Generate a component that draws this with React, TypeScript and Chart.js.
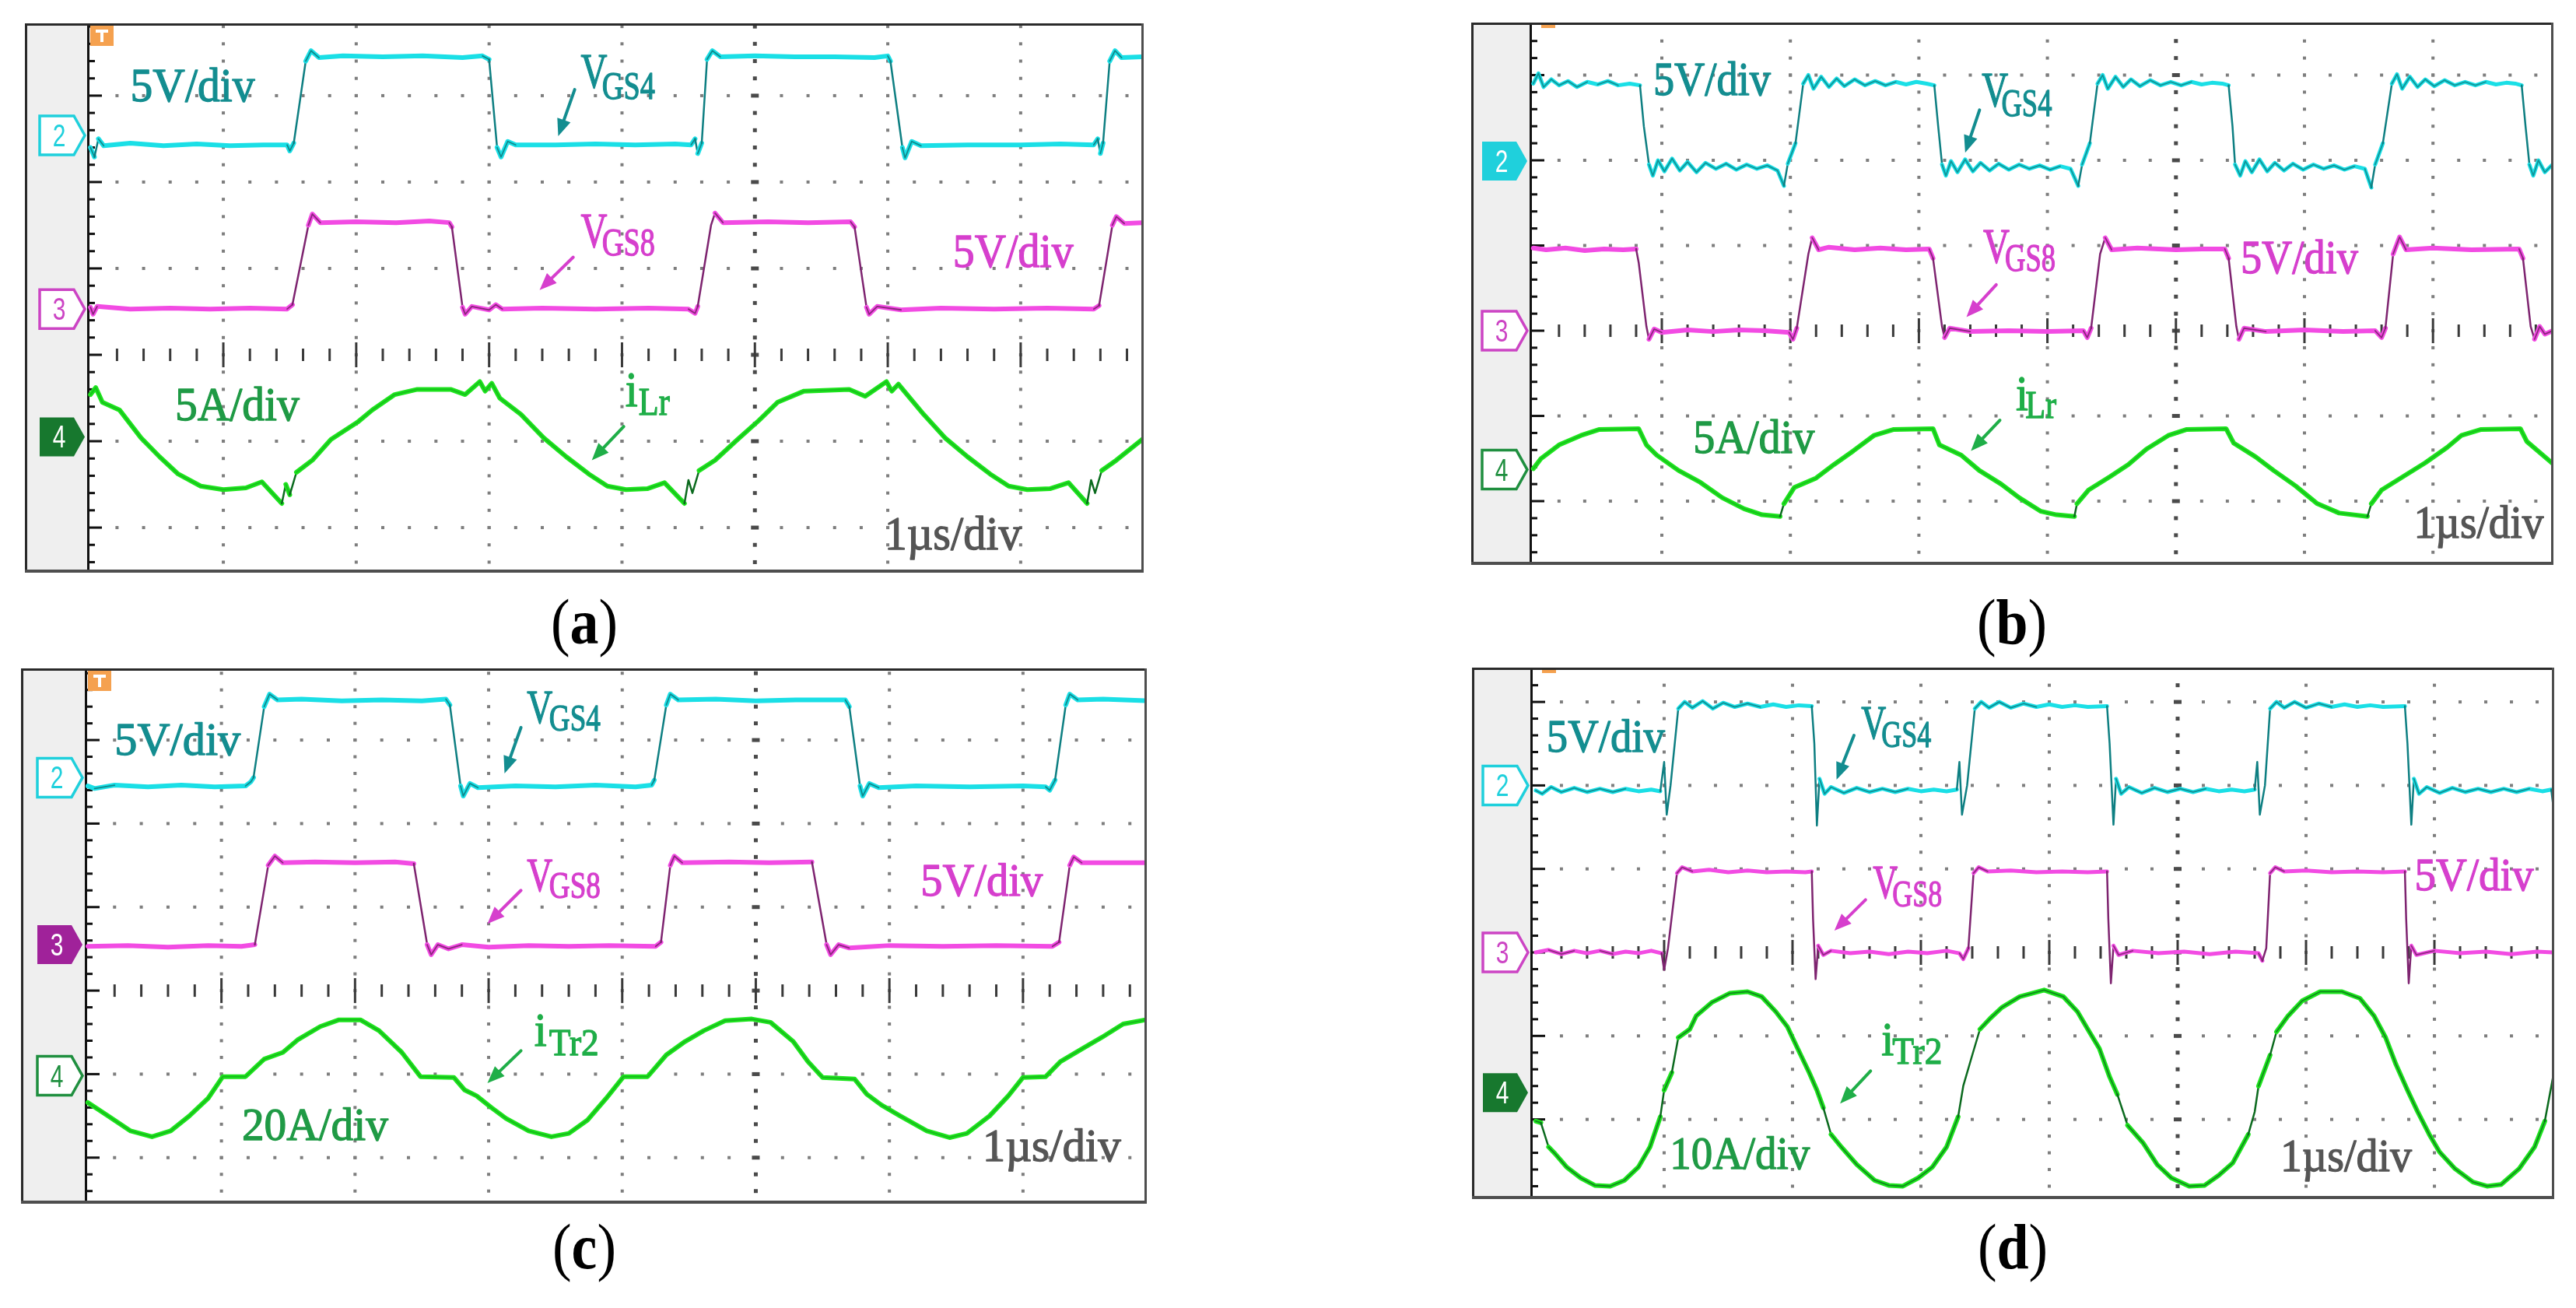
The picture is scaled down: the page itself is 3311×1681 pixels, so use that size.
import React, { useEffect, useRef } from "react";
import { Chart, registerables } from "chart.js";

Chart.register(...registerables);

type Pt = [number, number];

// ---------- Panel (a): time in µs, level in screen divisions ----------
const aVgs4: Pt[] = [[0.00,2.40],[0.03,2.29],[0.06,2.50],[0.10,2.42],[0.30,2.45],[0.55,2.42],[0.80,2.44],[1.05,2.42],[1.30,2.43],[1.48,2.43],[1.50,2.36],[1.53,2.45],[1.62,3.40],[1.66,3.52],[1.72,3.44],[1.90,3.46],[2.20,3.45],[2.50,3.46],[2.80,3.44],[2.95,3.46],[3.00,3.42],[3.06,2.40],[3.09,2.29],[3.14,2.47],[3.20,2.43],[3.50,2.43],[3.80,2.44],[4.10,2.43],[4.40,2.44],[4.52,2.43],[4.55,2.50],[4.57,2.33],[4.60,2.45],[4.64,3.42],[4.68,3.52],[4.74,3.45],[5.00,3.46],[5.30,3.45],[5.60,3.45],[5.90,3.44],[6.00,3.46],[6.02,3.40],[6.11,2.40],[6.13,2.28],[6.18,2.47],[6.25,2.42],[6.60,2.43],[7.00,2.43],[7.30,2.44],[7.55,2.43],[7.58,2.50],[7.60,2.33],[7.62,2.45],[7.67,3.40],[7.71,3.52],[7.76,3.44],[7.93,3.45]];
const aVgs8: Pt[] = [[0.00,0.55],[0.02,0.47],[0.05,0.56],[0.30,0.53],[0.60,0.54],[0.90,0.53],[1.20,0.54],[1.48,0.53],[1.52,0.58],[1.64,1.50],[1.67,1.63],[1.73,1.53],[2.00,1.54],[2.30,1.53],[2.55,1.55],[2.70,1.53],[2.72,1.48],[2.80,0.55],[2.82,0.47],[2.87,0.56],[3.00,0.52],[3.05,0.58],[3.10,0.53],[3.40,0.54],[3.80,0.53],[4.20,0.54],[4.50,0.53],[4.55,0.48],[4.57,0.56],[4.67,1.50],[4.70,1.64],[4.76,1.53],[5.10,1.54],[5.40,1.53],[5.72,1.54],[5.75,1.48],[5.84,0.55],[5.86,0.47],[5.92,0.56],[6.10,0.52],[6.40,0.54],[6.80,0.53],[7.20,0.54],[7.55,0.53],[7.59,0.57],[7.69,1.50],[7.72,1.60],[7.78,1.52],[7.93,1.53]];
const aIlr: Pt[] = [[0.00,-0.46],[0.04,-0.38],[0.09,-0.55],[0.22,-0.64],[0.38,-0.96],[0.52,-1.18],[0.66,-1.38],[0.83,-1.52],[1.00,-1.56],[1.17,-1.54],[1.29,-1.47],[1.44,-1.72],[1.47,-1.50],[1.50,-1.62],[1.55,-1.36],[1.67,-1.22],[1.81,-0.98],[2.01,-0.78],[2.12,-0.64],[2.29,-0.46],[2.46,-0.40],[2.71,-0.40],[2.82,-0.46],[2.93,-0.31],[2.97,-0.42],[3.02,-0.33],[3.08,-0.50],[3.24,-0.69],[3.41,-0.96],[3.58,-1.18],[3.75,-1.38],[3.89,-1.52],[4.03,-1.56],[4.19,-1.55],[4.32,-1.48],[4.47,-1.72],[4.50,-1.45],[4.53,-1.60],[4.58,-1.34],[4.70,-1.22],[4.87,-0.98],[5.03,-0.76],[5.17,-0.55],[5.37,-0.42],[5.71,-0.40],[5.83,-0.48],[5.99,-0.31],[6.03,-0.42],[6.08,-0.34],[6.27,-0.69],[6.43,-0.96],[6.60,-1.18],[6.77,-1.38],[6.91,-1.52],[7.05,-1.56],[7.22,-1.55],[7.36,-1.48],[7.50,-1.72],[7.53,-1.45],[7.56,-1.60],[7.61,-1.34],[7.72,-1.22],[7.93,-0.96]];

// ---------- Panel (b) ----------
const bVgs4: Pt[] = [[0.00,2.90],[0.04,3.02],[0.08,2.86],[0.14,2.95],[0.20,2.88],[0.27,2.93],[0.34,2.86],[0.42,2.92],[0.50,2.89],[0.58,2.93],[0.66,2.88],[0.75,2.90],[0.83,2.88],[0.86,2.40],[0.90,1.95],[0.93,1.82],[0.97,2.00],[1.02,1.87],[1.08,2.02],[1.14,1.88],[1.20,1.98],[1.27,1.86],[1.34,1.97],[1.42,1.90],[1.50,1.96],[1.58,1.89],[1.66,1.95],[1.74,1.90],[1.82,1.94],[1.90,1.88],[1.95,1.70],[1.98,1.96],[2.04,2.20],[2.10,2.90],[2.14,3.00],[2.18,2.84],[2.24,2.98],[2.30,2.86],[2.36,2.96],[2.42,2.87],[2.50,2.95],[2.58,2.88],[2.66,2.93],[2.74,2.88],[2.82,2.92],[2.90,2.89],[2.98,2.92],[3.06,2.90],[3.12,2.88],[3.15,2.40],[3.18,1.95],[3.21,1.82],[3.25,1.99],[3.30,1.86],[3.36,2.01],[3.42,1.87],[3.48,1.97],[3.55,1.88],[3.62,1.96],[3.70,1.89],[3.78,1.95],[3.86,1.90],[3.94,1.94],[4.02,1.89],[4.10,1.93],[4.18,1.90],[4.24,1.70],[4.27,1.95],[4.33,2.20],[4.39,2.90],[4.43,3.00],[4.47,2.84],[4.53,2.98],[4.59,2.86],[4.65,2.95],[4.72,2.87],[4.80,2.94],[4.88,2.88],[4.96,2.92],[5.04,2.88],[5.12,2.92],[5.20,2.89],[5.28,2.91],[5.36,2.90],[5.41,2.88],[5.44,2.40],[5.46,1.95],[5.50,1.82],[5.54,1.99],[5.59,1.86],[5.65,2.01],[5.71,1.87],[5.77,1.97],[5.84,1.88],[5.91,1.96],[5.99,1.89],[6.07,1.95],[6.15,1.90],[6.23,1.94],[6.31,1.89],[6.39,1.93],[6.47,1.90],[6.52,1.68],[6.55,1.95],[6.61,2.20],[6.68,2.90],[6.72,3.01],[6.76,2.84],[6.82,2.98],[6.88,2.86],[6.94,2.95],[7.01,2.87],[7.09,2.94],[7.17,2.88],[7.25,2.92],[7.33,2.88],[7.41,2.92],[7.49,2.89],[7.57,2.91],[7.64,2.90],[7.69,2.88],[7.72,2.40],[7.75,1.95],[7.78,1.82],[7.82,2.00],[7.87,1.86],[7.93,1.95]];
const bVgs8: Pt[] = [[0.00,0.97],[0.10,0.95],[0.25,0.97],[0.40,0.94],[0.55,0.96],[0.70,0.95],[0.80,0.96],[0.82,0.80],[0.88,0.05],[0.90,-0.10],[0.94,0.02],[1.00,-0.02],[1.20,0.01],[1.40,-0.01],[1.60,0.01],[1.80,0.00],[1.99,-0.02],[2.02,-0.10],[2.05,0.03],[2.14,0.90],[2.17,1.09],[2.22,0.95],[2.30,0.98],[2.50,0.95],[2.70,0.97],[2.90,0.95],[3.08,0.96],[3.11,0.85],[3.18,0.05],[3.20,-0.08],[3.24,0.03],[3.40,-0.01],[3.70,0.00],[4.00,-0.01],[4.28,0.00],[4.31,-0.08],[4.34,0.03],[4.41,0.90],[4.45,1.09],[4.50,0.95],[4.70,0.97],[5.00,0.95],[5.20,0.96],[5.38,0.96],[5.41,0.85],[5.47,0.05],[5.49,-0.10],[5.53,0.03],[5.70,-0.01],[6.00,0.01],[6.30,-0.01],[6.55,0.00],[6.60,-0.08],[6.63,0.03],[6.69,0.90],[6.74,1.10],[6.79,0.95],[7.00,0.97],[7.30,0.95],[7.67,0.96],[7.70,0.85],[7.76,0.05],[7.79,-0.10],[7.83,0.05],[7.87,-0.04],[7.93,0.00]];
const bIlr: Pt[] = [[0.00,-1.62],[0.06,-1.50],[0.20,-1.34],[0.37,-1.23],[0.51,-1.16],[0.82,-1.15],[0.88,-1.34],[0.96,-1.46],[1.13,-1.64],[1.30,-1.78],[1.47,-1.96],[1.64,-2.09],[1.78,-2.16],[1.92,-2.18],[1.95,-2.03],[2.03,-1.84],[2.20,-1.73],[2.34,-1.57],[2.49,-1.41],[2.65,-1.23],[2.80,-1.16],[3.11,-1.15],[3.16,-1.34],[3.33,-1.46],[3.47,-1.64],[3.64,-1.80],[3.78,-1.96],[3.95,-2.12],[4.07,-2.16],[4.21,-2.18],[4.23,-2.03],[4.32,-1.87],[4.49,-1.71],[4.63,-1.57],[4.77,-1.39],[4.94,-1.23],[5.08,-1.16],[5.39,-1.15],[5.45,-1.32],[5.62,-1.48],[5.76,-1.64],[5.93,-1.82],[6.10,-2.03],[6.27,-2.14],[6.49,-2.18],[6.52,-2.03],[6.60,-1.87],[6.77,-1.71],[6.94,-1.55],[7.11,-1.37],[7.22,-1.23],[7.37,-1.16],[7.68,-1.15],[7.73,-1.30],[7.94,-1.57]];

// ---------- Panel (c) ----------
const cVgs4: Pt[] = [[0.00,2.45],[0.05,2.42],[0.20,2.46],[0.45,2.44],[0.70,2.46],[0.95,2.44],[1.18,2.45],[1.22,2.50],[1.24,2.55],[1.32,3.40],[1.36,3.55],[1.42,3.48],[1.60,3.49],[1.90,3.47],[2.20,3.48],[2.50,3.47],[2.68,3.49],[2.71,3.42],[2.79,2.45],[2.81,2.33],[2.86,2.48],[2.92,2.43],[3.20,2.45],[3.50,2.44],[3.80,2.46],[4.10,2.44],[4.22,2.46],[4.24,2.52],[4.33,3.42],[4.36,3.55],[4.42,3.48],[4.70,3.49],[5.00,3.47],[5.30,3.48],[5.67,3.48],[5.70,3.40],[5.78,2.45],[5.80,2.33],[5.85,2.48],[5.92,2.43],[6.20,2.45],[6.60,2.44],[7.00,2.45],[7.17,2.44],[7.20,2.40],[7.24,2.52],[7.32,3.42],[7.35,3.55],[7.41,3.48],[7.60,3.49],[7.92,3.47]];
const cVgs8: Pt[] = [[0.00,0.53],[0.30,0.54],[0.60,0.52],[0.90,0.54],[1.15,0.53],[1.25,0.55],[1.35,1.50],[1.40,1.61],[1.46,1.53],[1.70,1.54],[2.00,1.53],[2.30,1.54],[2.44,1.52],[2.54,0.55],[2.57,0.43],[2.62,0.55],[2.70,0.50],[2.80,0.55],[3.00,0.52],[3.30,0.54],[3.60,0.53],[3.90,0.54],[4.25,0.53],[4.29,0.58],[4.36,1.50],[4.39,1.61],[4.45,1.53],[4.80,1.54],[5.10,1.53],[5.42,1.54],[5.53,0.55],[5.56,0.43],[5.62,0.55],[5.70,0.51],[6.00,0.54],[6.40,0.53],[6.80,0.54],[7.22,0.53],[7.27,0.58],[7.35,1.50],[7.38,1.60],[7.44,1.53],[7.92,1.53]];
const cItr2: Pt[] = [[0.00,-1.34],[0.15,-1.50],[0.32,-1.68],[0.48,-1.75],[0.62,-1.68],[0.76,-1.50],[0.90,-1.29],[1.01,-1.03],[1.18,-1.03],[1.32,-0.82],[1.46,-0.74],[1.57,-0.59],[1.74,-0.43],[1.88,-0.35],[2.04,-0.35],[2.18,-0.48],[2.35,-0.74],[2.49,-1.03],[2.74,-1.04],[2.82,-1.19],[2.91,-1.26],[3.02,-1.40],[3.13,-1.53],[3.30,-1.68],[3.47,-1.75],[3.60,-1.71],[3.74,-1.55],[3.88,-1.29],[4.01,-1.03],[4.19,-1.03],[4.33,-0.77],[4.47,-0.61],[4.61,-0.48],[4.77,-0.36],[4.97,-0.34],[5.11,-0.38],[5.28,-0.61],[5.39,-0.85],[5.50,-1.04],[5.74,-1.06],[5.83,-1.24],[5.94,-1.37],[6.08,-1.50],[6.28,-1.68],[6.45,-1.76],[6.58,-1.71],[6.75,-1.50],[6.89,-1.26],[7.00,-1.04],[7.17,-1.03],[7.28,-0.85],[7.45,-0.69],[7.59,-0.56],[7.75,-0.40],[7.92,-0.35]];

// ---------- Panel (d) ----------
const dVgs4: Pt[] = [[0.00,1.94],[0.05,1.90],[0.12,1.98],[0.20,1.92],[0.30,1.97],[0.40,1.92],[0.50,1.96],[0.60,1.92],[0.70,1.96],[0.80,1.93],[0.90,1.95],[0.97,1.93],[1.00,2.28],[1.02,1.65],[1.05,2.00],[1.11,2.92],[1.16,3.00],[1.22,2.93],[1.30,3.01],[1.38,2.92],[1.46,2.99],[1.55,2.94],[1.65,2.98],[1.75,2.94],[1.85,2.97],[1.95,2.94],[2.05,2.96],[2.15,2.95],[2.17,2.50],[2.19,1.52],[2.21,2.08],[2.25,1.90],[2.30,1.98],[2.40,1.91],[2.50,1.97],[2.60,1.92],[2.70,1.96],[2.80,1.92],[2.90,1.96],[3.00,1.93],[3.10,1.95],[3.20,1.93],[3.28,1.95],[3.30,2.28],[3.32,1.65],[3.36,2.00],[3.42,2.92],[3.47,3.00],[3.53,2.93],[3.61,3.00],[3.70,2.93],[3.80,2.98],[3.90,2.94],[4.00,2.97],[4.10,2.94],[4.20,2.96],[4.30,2.94],[4.45,2.95],[4.47,2.50],[4.50,1.53],[4.52,2.08],[4.56,1.90],[4.62,1.98],[4.72,1.91],[4.82,1.97],[4.92,1.92],[5.02,1.96],[5.12,1.92],[5.22,1.96],[5.32,1.93],[5.42,1.95],[5.52,1.93],[5.60,1.95],[5.62,2.28],[5.64,1.65],[5.68,2.00],[5.72,2.92],[5.77,3.00],[5.83,2.93],[5.91,3.00],[6.00,2.93],[6.10,2.98],[6.20,2.94],[6.30,2.97],[6.40,2.94],[6.50,2.96],[6.60,2.94],[6.77,2.95],[6.79,2.50],[6.82,1.53],[6.84,2.08],[6.88,1.90],[6.94,1.98],[7.04,1.91],[7.14,1.97],[7.24,1.92],[7.34,1.96],[7.44,1.92],[7.54,1.96],[7.64,1.92],[7.74,1.96],[7.84,1.93],[7.91,1.95],[7.93,1.70]];
const dVgs8: Pt[] = [[0.00,0.00],[0.10,0.03],[0.20,-0.02],[0.30,0.02],[0.40,-0.01],[0.50,0.02],[0.60,-0.02],[0.70,0.01],[0.80,-0.01],[0.90,0.02],[0.98,-0.01],[1.00,-0.21],[1.03,0.05],[1.10,0.95],[1.14,1.02],[1.22,0.97],[1.35,0.99],[1.50,0.96],[1.65,0.98],[1.80,0.96],[1.95,0.97],[2.10,0.96],[2.15,0.97],[2.16,0.40],[2.18,-0.32],[2.20,0.08],[2.24,-0.03],[2.30,0.02],[2.45,-0.01],[2.60,0.01],[2.75,-0.02],[2.90,0.01],[3.05,-0.01],[3.20,0.02],[3.30,-0.01],[3.33,-0.08],[3.37,0.05],[3.41,0.95],[3.45,1.02],[3.52,0.97],[3.70,0.98],[3.90,0.96],[4.10,0.97],[4.30,0.96],[4.45,0.97],[4.46,0.40],[4.48,-0.37],[4.50,0.08],[4.54,-0.03],[4.65,0.02],[4.85,-0.01],[5.05,0.01],[5.25,-0.02],[5.45,0.01],[5.63,-0.01],[5.66,-0.10],[5.69,0.05],[5.72,0.95],[5.76,1.02],[5.83,0.97],[6.00,0.98],[6.20,0.96],[6.40,0.97],[6.60,0.96],[6.77,0.97],[6.78,0.40],[6.80,-0.37],[6.82,0.08],[6.86,-0.03],[7.00,0.02],[7.20,-0.01],[7.40,0.01],[7.60,-0.02],[7.80,0.01],[7.93,0.00]];
const dItr2: Pt[] = [[0.00,-2.02],[0.04,-2.04],[0.10,-2.33],[0.15,-2.41],[0.24,-2.57],[0.35,-2.70],[0.46,-2.79],[0.58,-2.80],[0.69,-2.73],[0.80,-2.57],[0.89,-2.33],[0.97,-1.97],[1.00,-1.65],[1.06,-1.44],[1.11,-1.02],[1.20,-0.92],[1.25,-0.76],[1.37,-0.60],[1.51,-0.49],[1.65,-0.47],[1.76,-0.53],[1.87,-0.71],[1.96,-0.89],[2.04,-1.15],[2.13,-1.44],[2.19,-1.65],[2.24,-1.86],[2.30,-2.18],[2.38,-2.33],[2.50,-2.54],[2.64,-2.73],[2.75,-2.79],[2.86,-2.80],[2.98,-2.70],[3.09,-2.57],[3.20,-2.33],[3.29,-1.97],[3.33,-1.60],[3.40,-1.23],[3.46,-0.92],[3.54,-0.79],[3.63,-0.66],[3.77,-0.53],[3.96,-0.45],[4.11,-0.53],[4.22,-0.71],[4.30,-0.92],[4.39,-1.15],[4.47,-1.49],[4.53,-1.70],[4.61,-2.07],[4.73,-2.28],[4.84,-2.54],[4.95,-2.70],[5.09,-2.80],[5.21,-2.79],[5.32,-2.67],[5.43,-2.52],[5.55,-2.18],[5.60,-1.91],[5.63,-1.60],[5.72,-1.23],[5.77,-0.95],[5.86,-0.76],[5.97,-0.58],[6.11,-0.47],[6.28,-0.47],[6.42,-0.55],[6.53,-0.76],[6.62,-1.02],[6.70,-1.34],[6.79,-1.65],[6.87,-1.91],[6.96,-2.18],[7.04,-2.39],[7.16,-2.59],[7.30,-2.75],[7.41,-2.80],[7.52,-2.78],[7.66,-2.59],[7.78,-2.33],[7.86,-2.02],[7.93,-1.44]];

// ---------- styles ----------
const COL = {
  cyan: { bright: "#1adfe6", dark: "#0e7f82" },
  magenta: { bright: "#f24be3", dark: "#7e2470" },
  green: { bright: "#1de41d", dark: "#0b6a1e" },
};
const TEAL = "#138d90";
const MAGT = "#d63fcd";
const GRNT = "#1f9a45";
const GRNT2 = "#1fae48";
const GRAY = "#555555";
const SERIF = "'Liberation Serif', 'DejaVu Serif', serif";
const SANS = "'Liberation Sans', 'DejaVu Sans', sans-serif";

type Ann =
  | { t: "text"; s: string; x: number; y: number; size: number; w: number; color: string }
  | { t: "arrow"; x0: number; y0: number; x1: number; y1: number; color: string };
const T = (s: string, x: number, y: number, size: number, w: number, color: string): Ann => ({ t: "text", s, x, y, size, w, color });
const Arr = (x0: number, y0: number, x1: number, y1: number, color: string): Ann => ({ t: "arrow", x0, y0, x1, y1, color });

type Marker = { n: string; y: number; color: string; filled: boolean };
type Trace = { pts: Pt[]; c: keyof typeof COL; w: number; overlay: "wiggle" | "all"; alpha: number };
type Panel = {
  id: string; left: number; top: number; w: number; h: number;
  pad: { left: number; top: number; right: number; bottom: number };
  xMin: number; xMax: number; yMin: number; yMax: number;
  trig: "box" | "bar"; markers: Marker[]; traces: Trace[]; anns: Ann[];
  label: { cx: number; top: number };
};

const CYM = "#1fd0dc", MGM = "#cc44c4", GRM = "#1f8f3f", GRF = "#17782e", MGF = "#a0229a";

const PANELS: Panel[] = [
  {
    id: "a", left: 32, top: 30, w: 1438, h: 706, pad: { left: 81, top: 3, right: 2, bottom: 3 },
    xMin: -0.019, xMax: 7.914, yMin: -2.495, yMax: 3.81, trig: "box",
    markers: [{ n: "2", y: 2.54, color: CYM, filled: false }, { n: "3", y: 0.53, color: MGM, filled: false }, { n: "4", y: -0.95, color: GRF, filled: true }],
    traces: [
      { pts: aVgs4, c: "cyan", w: 6, overlay: "wiggle", alpha: 0.9 },
      { pts: aVgs8, c: "magenta", w: 6, overlay: "wiggle", alpha: 0.9 },
      { pts: aIlr, c: "green", w: 6, overlay: "all", alpha: 0.3 },
    ],
    anns: [
      T("5V/div", 0.30, 2.94, 62, 160, TEAL),
      T("V", 3.69, 3.09, 64, 34, TEAL), T("GS4", 3.85, 2.965, 50, 68, TEAL),
      Arr(3.644, 3.07, 3.52, 2.53, TEAL),
      T("V", 3.69, 1.24, 64, 34, MAGT), T("GS8", 3.85, 1.15, 50, 68, MAGT),
      Arr(3.633, 1.13, 3.38, 0.75, MAGT),
      T("5V/div", 6.49, 1.016, 62, 155, MAGT),
      T("5A/div", 0.636, -0.754, 62, 160, GRNT),
      T("i", 4.025, -0.597, 64, 16, GRNT2), T("Lr", 4.125, -0.695, 50, 40, GRNT2),
      Arr(4.013, -0.83, 3.773, -1.22, GRNT2),
      T("1µs/div", 5.974, -2.255, 62, 176, GRAY),
    ],
    label: { cx: 751, top: 759 },
  },
  {
    id: "b", left: 1891, top: 29, w: 1391, h: 697, pad: { left: 76, top: 3, right: 2, bottom: 3 },
    xMin: -0.023, xMax: 7.925, yMin: -2.721, yMax: 3.589, trig: "bar",
    markers: [{ n: "2", y: 1.99, color: CYM, filled: true }, { n: "3", y: 0.0, color: MGM, filled: false }, { n: "4", y: -1.63, color: GRM, filled: false }],
    traces: [
      { pts: bVgs4, c: "cyan", w: 5, overlay: "wiggle", alpha: 0.8 },
      { pts: bVgs8, c: "magenta", w: 6, overlay: "wiggle", alpha: 0.9 },
      { pts: bIlr, c: "green", w: 6, overlay: "all", alpha: 0.3 },
    ],
    anns: [
      T("5V/div", 0.933, 2.77, 62, 151, TEAL),
      T("V", 3.489, 2.632, 64, 34, TEAL), T("GS4", 3.642, 2.518, 50, 65, TEAL),
      Arr(3.472, 2.59, 3.36, 2.09, TEAL),
      T("V", 3.50, 0.792, 64, 34, MAGT), T("GS8", 3.67, 0.701, 50, 65, MAGT),
      Arr(3.602, 0.54, 3.37, 0.16, MAGT),
      T("5V/div", 5.503, 0.678, 62, 151, MAGT),
      T("5A/div", 1.244, -1.434, 62, 156, GRNT),
      T("i", 3.754, -0.935, 64, 16, GRNT2), T("Lr", 3.828, -1.026, 50, 40, GRNT2),
      Arr(3.63, -1.05, 3.405, -1.41, GRNT2),
      T("1µs/div", 6.85, -2.43, 59, 167, GRAY),
    ],
    label: { cx: 2586, top: 759 },
  },
  {
    id: "c", left: 27, top: 859, w: 1447, h: 688, pad: { left: 83, top: 3, right: 2, bottom: 3 },
    xMin: -0.017, xMax: 7.915, yMin: -2.524, yMax: 3.83, trig: "box",
    markers: [{ n: "2", y: 2.55, color: CYM, filled: false }, { n: "3", y: 0.55, color: MGF, filled: true }, { n: "4", y: -1.02, color: GRM, filled: false }],
    traces: [
      { pts: cVgs4, c: "cyan", w: 6, overlay: "wiggle", alpha: 0.9 },
      { pts: cVgs8, c: "magenta", w: 6, overlay: "wiggle", alpha: 0.9 },
      { pts: cItr2, c: "green", w: 6, overlay: "all", alpha: 0.35 },
    ],
    anns: [
      T("5V/div", 0.20, 2.82, 60, 162, TEAL),
      T("V", 3.286, 3.205, 62, 33, TEAL), T("GS4", 3.453, 3.111, 49, 66, TEAL),
      Arr(3.242, 3.15, 3.119, 2.60, TEAL),
      T("V", 3.286, 1.192, 62, 33, MAGT), T("GS8", 3.453, 1.114, 49, 66, MAGT),
      Arr(3.242, 1.20, 2.991, 0.80, MAGT),
      T("5V/div", 6.233, 1.14, 60, 157, MAGT),
      T("i", 3.342, -0.663, 62, 16, GRNT2), T("Tr2", 3.453, -0.768, 49, 64, GRNT2),
      Arr(3.242, -0.72, 2.991, -1.107, GRNT2),
      T("20A/div", 1.153, -1.787, 60, 188, GRNT),
      T("1µs/div", 6.696, -2.04, 60, 178, GRAY),
    ],
    label: { cx: 751, top: 1562 },
  },
  {
    id: "d", left: 1892, top: 858, w: 1391, h: 683, pad: { left: 76, top: 3, right: 2, bottom: 3 },
    xMin: -0.036, xMax: 7.921, yMin: -2.926, yMax: 3.383, trig: "bar",
    markers: [{ n: "2", y: 2.0, color: CYM, filled: false }, { n: "3", y: 0.0, color: MGM, filled: false }, { n: "4", y: -1.68, color: GRF, filled: true }],
    traces: [
      { pts: dVgs4, c: "cyan", w: 5, overlay: "wiggle", alpha: 0.85 },
      { pts: dVgs8, c: "magenta", w: 5, overlay: "wiggle", alpha: 0.85 },
      { pts: dItr2, c: "green", w: 6, overlay: "all", alpha: 0.75 },
    ],
    anns: [
      T("5V/div", 0.084, 2.407, 60, 152, TEAL),
      T("V", 2.535, 2.564, 62, 32, TEAL), T("GS4", 2.693, 2.459, 49, 64, TEAL),
      Arr(2.479, 2.60, 2.343, 2.07, TEAL),
      T("V", 2.626, 0.653, 62, 32, MAGT), T("GS8", 2.778, 0.548, 49, 64, MAGT),
      Arr(2.569, 0.63, 2.326, 0.26, MAGT),
      T("5V/div", 6.845, 0.747, 60, 153, MAGT),
      T("i", 2.693, -1.232, 62, 16, GRNT2), T("Tr2", 2.778, -1.337, 49, 64, GRNT2),
      Arr(2.608, -1.42, 2.371, -1.81, GRNT2),
      T("10A/div", 1.044, -2.594, 60, 180, GRNT),
      T("1µs/div", 5.80, -2.62, 60, 169, GRAY),
    ],
    label: { cx: 2587, top: 1562 },
  },
];

// ---------- drawing helpers ----------
function fitText(ctx: CanvasRenderingContext2D, s: string, x: number, y: number, size: number, w: number, color: string, family = SERIF) {
  ctx.save();
  ctx.font = `${size}px ${family}`;
  const m = ctx.measureText(s).width || 1;
  ctx.translate(x, y);
  ctx.scale(w / m, 1);
  ctx.fillStyle = color;
  ctx.strokeStyle = color;
  ctx.lineWidth = 1.3;
  ctx.lineJoin = "round";
  ctx.textBaseline = "alphabetic";
  ctx.textAlign = "left";
  ctx.fillText(s, 0, 0);
  ctx.strokeText(s, 0, 0);
  ctx.restore();
}

function arrow(ctx: CanvasRenderingContext2D, x0: number, y0: number, x1: number, y1: number, color: string) {
  const ang = Math.atan2(y1 - y0, x1 - x0);
  const hl = 22, hw = 9;
  const bx = x1 - Math.cos(ang) * hl, by = y1 - Math.sin(ang) * hl;
  ctx.save();
  ctx.strokeStyle = color; ctx.fillStyle = color; ctx.lineWidth = 4; ctx.lineCap = "round";
  ctx.beginPath(); ctx.moveTo(x0, y0); ctx.lineTo(bx, by); ctx.stroke();
  ctx.beginPath();
  ctx.moveTo(x1, y1);
  ctx.lineTo(bx + Math.sin(ang) * hw, by - Math.cos(ang) * hw);
  ctx.lineTo(bx - Math.sin(ang) * hw, by + Math.cos(ang) * hw);
  ctx.closePath(); ctx.fill();
  ctx.restore();
}

function scopePlugin(p: Panel) {
  return {
    id: "scope_" + p.id,
    beforeDraw(chart: any) {
      const { ctx, chartArea: a, width, height } = chart;
      ctx.save();
      ctx.fillStyle = "#ffffff"; ctx.fillRect(0, 0, width, height);
      ctx.fillStyle = "#efefef"; ctx.fillRect(0, 0, a.left, height);
      ctx.restore();
    },
    beforeDatasetsDraw(chart: any) {
      const { ctx, chartArea: a } = chart;
      const X = (v: number) => chart.scales.x.getPixelForValue(v);
      const Y = (v: number) => chart.scales.y.getPixelForValue(v);
      ctx.save();
      ctx.beginPath(); ctx.rect(a.left, a.top, a.right - a.left, a.bottom - a.top); ctx.clip();
      const kyMin = Math.ceil(p.yMin * 5), kyMax = Math.floor(p.yMax * 5);
      const kxMax = Math.floor(p.xMax * 5);
      ctx.fillStyle = "#7e7e7e";
      for (let c = 1; c <= 8; c++) {
        if (c === 5) continue;
        const px = X(c);
        for (let k = kyMin; k <= kyMax; k++) ctx.fillRect(px - 2, Y(k / 5) - 2, 4, 4);
      }
      for (let r = Math.ceil(p.yMin); r <= Math.floor(p.yMax); r++) {
        if (r === 0) continue;
        const py = Y(r);
        for (let k = 1; k <= kxMax; k++) ctx.fillRect(X(k / 5) - 2, py - 2, 4, 4);
      }
      // centre column
      ctx.fillStyle = "#4a4a4a";
      const cx = X(5);
      for (let k = kyMin; k <= kyMax; k++) {
        const py = Y(k / 5);
        if (k % 5 === 0) ctx.fillRect(cx - 5, py - 2.5, 10, 5);
        else ctx.fillRect(cx - 2.5, py - 2.5, 5, 5);
      }
      // centre row ticks
      ctx.fillStyle = "#3a3a3a";
      const cy = Y(0);
      for (let k = 1; k <= kxMax; k++) {
        const len = k % 5 === 0 ? 32 : 16;
        ctx.fillRect(X(k / 5) - 1.5, cy - len / 2, 3, len);
      }
      ctx.restore();
      // left border with ticks
      ctx.save();
      ctx.fillStyle = "#111111";
      ctx.fillRect(a.left - 1, a.top, 3, a.bottom - a.top);
      for (let k = kyMin; k <= kyMax; k++) {
        const len = k % 5 === 0 ? 18 : 9;
        ctx.fillRect(a.left, Y(k / 5) - 1.5, len, 3);
      }
      ctx.restore();
    },
    afterDatasetsDraw(chart: any) {
      const { ctx, chartArea: a, width, height } = chart;
      const X = (v: number) => chart.scales.x.getPixelForValue(v);
      const Y = (v: number) => chart.scales.y.getPixelForValue(v);
      // trigger marker
      ctx.save();
      ctx.fillStyle = "#f5a14f";
      if (p.trig === "box") {
        ctx.fillRect(a.left + 3, a.top, 30, 26);
        ctx.fillStyle = "#ffffff";
        ctx.fillRect(a.left + 10, a.top + 5, 16, 4);
        ctx.fillRect(a.left + 16, a.top + 5, 4, 16);
      } else {
        ctx.fillRect(a.left + 14, a.top, 18, 4);
      }
      ctx.restore();
      // annotations
      for (const an of p.anns) {
        if (an.t === "text") fitText(ctx, an.s, X(an.x), Y(an.y), an.size, an.w, an.color);
        else arrow(ctx, X(an.x0), Y(an.y0), X(an.x1), Y(an.y1), an.color);
      }
      // channel markers
      for (const m of p.markers) {
        const yc = Y(m.y);
        const x1 = a.left - 4, x0 = x1 - 58, hh = 25, pt = 14;
        ctx.save();
        ctx.beginPath();
        ctx.moveTo(x0, yc - hh); ctx.lineTo(x1 - pt, yc - hh); ctx.lineTo(x1, yc);
        ctx.lineTo(x1 - pt, yc + hh); ctx.lineTo(x0, yc + hh); ctx.closePath();
        if (m.filled) { ctx.fillStyle = m.color; ctx.fill(); }
        else { ctx.fillStyle = "#ffffff"; ctx.fill(); ctx.strokeStyle = m.color; ctx.lineWidth = 3.5; ctx.stroke(); }
        ctx.restore();
        ctx.save();
        ctx.font = `40px ${SANS}`;
        const tw = ctx.measureText(m.n).width;
        const sx = 0.75;
        ctx.translate(x0 + (x1 - pt - x0) / 2 + 3 - (tw * sx) / 2, yc + 14);
        ctx.scale(sx, 1);
        ctx.fillStyle = m.filled ? "#ffffff" : m.color;
        ctx.fillText(m.n, 0, 0);
        ctx.restore();
      }
      // frame
      ctx.save();
      ctx.fillStyle = "#2a2a2a";
      ctx.fillRect(0, 0, width, 3);
      ctx.fillRect(0, 0, 3, height);
      ctx.fillStyle = "#4e4e4e";
      ctx.fillRect(width - 3, 0, 3, height);
      ctx.fillRect(0, height - 4, width, 4);
      ctx.restore();
    },
  };
}

function steep(c: any) {
  const dx = Math.abs(c.p1.x - c.p0.x), dy = Math.abs(c.p1.y - c.p0.y);
  return dy > 3 * dx && dy > 14;
}

function hexA(hex: string, a: number) {
  const n = parseInt(hex.slice(1), 16);
  return `rgba(${(n >> 16) & 255},${(n >> 8) & 255},${n & 255},${a})`;
}

function buildConfig(p: Panel): any {
  const datasets: any[] = [];
  for (const tr of p.traces) {
    const col = COL[tr.c];
    const data = tr.pts.map(([x, y]) => ({ x, y }));
    datasets.push({
      data, order: 1, borderColor: col.bright, borderWidth: tr.w, pointRadius: 0, fill: false,
      borderJoinStyle: "round", borderCapStyle: "round", clip: 0,
      segment: {
        borderColor: (c: any) => (steep(c) ? col.dark : col.bright),
        borderWidth: (c: any) => (steep(c) ? 2.5 : tr.w),
      },
    });
    const darkA = hexA(col.dark, tr.alpha);
    datasets.push({
      data, order: 0, borderColor: darkA, borderWidth: 1.8, pointRadius: 0, fill: false,
      borderJoinStyle: "round", borderCapStyle: "round", clip: 0,
      segment: {
        borderColor: (c: any) => {
          if (steep(c)) return "rgba(0,0,0,0)";
          if (tr.overlay === "all") return darkA;
          return Math.abs(c.p1.y - c.p0.y) > 4 ? darkA : "rgba(0,0,0,0)";
        },
      },
    });
  }
  return {
    type: "line",
    data: { datasets },
    options: {
      animation: false, responsive: false, maintainAspectRatio: false, devicePixelRatio: 1,
      events: [],
      layout: { padding: p.pad },
      plugins: { legend: { display: false }, tooltip: { enabled: false }, title: { display: false } },
      scales: {
        x: { type: "linear", min: p.xMin, max: p.xMax, display: false },
        y: { type: "linear", min: p.yMin, max: p.yMax, display: false },
      },
      elements: { point: { radius: 0 }, line: { tension: 0 } },
    },
    plugins: [scopePlugin(p)],
  };
}

export default function App() {
  const refs = useRef<(HTMLCanvasElement | null)[]>([]);
  useEffect(() => {
    document.body.style.margin = "0";
    document.body.style.overflow = "hidden";
    const charts = PANELS.map((p, i) => new Chart(refs.current[i] as HTMLCanvasElement, buildConfig(p)));
    return () => charts.forEach((c) => c.destroy());
  }, []);
  return (
    <div style={{ position: "absolute", left: 0, top: 0, width: 3311, height: 1681, background: "#ffffff", overflow: "hidden" }}>
      {PANELS.map((p, i) => (
        <canvas
          key={p.id}
          ref={(el) => { refs.current[i] = el; }}
          width={p.w}
          height={p.h}
          style={{ position: "absolute", left: p.left, top: p.top, width: p.w, height: p.h }}
        />
      ))}
      {PANELS.map((p) => (
        <div
          key={"l" + p.id}
          style={{
            position: "absolute", left: p.label.cx, top: p.label.top, transform: "translateX(-50%) scaleX(0.9)",
            fontFamily: SERIF, fontSize: 82, lineHeight: "82px", whiteSpace: "nowrap", color: "#000",
          }}
        >
          (<b>{p.id}</b>)
        </div>
      ))}
    </div>
  );
}
